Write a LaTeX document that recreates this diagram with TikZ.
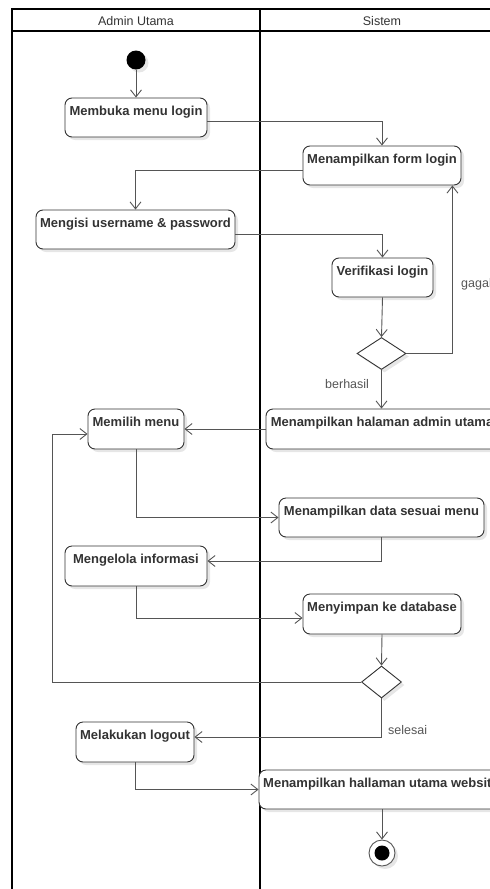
\documentclass[tikz,border=0pt]{standalone}
\usepackage{fontspec}
\setmainfont{Liberation Sans}
\usetikzlibrary{arrows.meta,shapes.geometric,shadows}
\definecolor{edgegray}{HTML}{555555}
\definecolor{boxline}{HTML}{333333}
\definecolor{shade}{HTML}{E6E6E6}
\definecolor{ink}{HTML}{333333}
\definecolor{soft}{HTML}{555555}
\begin{document}
\begin{tikzpicture}[x=1pt,y=-1pt,
  font=\fontsize{13}{15}\selectfont,
  flow/.style={draw=edgegray, line width=0.9pt, -{Straight Barb[length=7pt,width=11pt,line width=0.9pt]}},
  softshadow/.style={drop shadow={shadow xshift=3pt, shadow yshift=-3pt, fill=shade, draw=none, opacity=1}},
  act/.style={draw=boxline, line width=0.9pt, rounded corners=7pt, fill=white,
    minimum height=39pt, inner sep=0pt, softshadow},
  acttext/.style={anchor=base, yshift=-17.5pt, inner sep=0pt, text=ink,
    font=\fontsize{13}{15}\selectfont\bfseries},
  decision/.style={diamond, draw=boxline, line width=0.9pt, fill=white, inner sep=0pt, softshadow},
  lane/.style={draw=black, line width=2pt},
  lanetitle/.style={text=ink, font=\fontsize{12.5}{15}\selectfont, inner sep=0pt, anchor=base},
  guard/.style={text=soft, font=\fontsize{12.5}{15}\selectfont, inner sep=0pt, anchor=base west}
]
\useasboundingbox (0,0) rectangle (490,889);
\clip (0,0) rectangle (490,889);

% swimlanes
\draw[lane] (12,889) -- (12,9) -- (500,9);
\draw[lane] (260,9) -- (260,889);
\draw[draw=black, line width=1.5pt] (12,31) -- (500,31);
\node[lanetitle] (laneA) at (136,25) {Admin Utama};
\node[lanetitle] (laneB) at (382,25) {Sistem};

% start / end
\node[circle, fill=black, minimum size=19pt, inner sep=0pt, softshadow] (start) at (136,60) {};
\node[circle, draw=edgegray, line width=0.9pt, fill=white, minimum size=26pt, inner sep=0pt, softshadow] (end) at (382,853) {};
\node[circle, fill=black, minimum size=15pt, inner sep=0pt] (endin) at (end) {};

% activities
\node[act, minimum width=142pt, label={[acttext]north:Membuka menu login}] (b1) at (136,117.5) {};
\node[act, minimum width=158pt, label={[acttext]north:Menampilkan form login}] (b2) at (382,165.5) {};
\node[act, minimum width=199pt, label={[acttext]north:Mengisi username \& password}] (b3) at (135.5,229.5) {};
\node[act, minimum width=101pt, label={[acttext]north:Verifikasi login}] (b4) at (382.5,277.5) {};
\node[decision, minimum width=49pt, minimum height=32pt] (d1) at (381.5,353.5) {};
\node[act, minimum width=232pt, minimum height=40pt, label={[acttext]north:Menampilkan halaman admin utama}] (b5) at (382,429) {};
\node[act, minimum width=96pt, minimum height=40pt, label={[acttext]north:Memilih menu}] (b6) at (136,429) {};
\node[act, minimum width=205pt, label={[acttext]north:Menampilkan data sesuai menu}] (b7) at (381.5,517.5) {};
\node[act, minimum width=142pt, minimum height=40pt, label={[acttext]north:Mengelola informasi}] (b8) at (136,566) {};
\node[act, minimum width=158pt, minimum height=40pt, label={[acttext]north:Menyimpan ke database}] (b9) at (382,614) {};
\node[decision, minimum width=40pt, minimum height=32pt] (d2) at (381.5,682) {};
\node[act, minimum width=118pt, minimum height=40pt, label={[acttext]north:Melakukan logout}] (b10) at (135,742) {};
\node[act, minimum width=244pt, label={[acttext]north:Menampilkan hallaman utama website}] (b11) at (381,789.5) {};

% guards
\node[guard] (gfail) at (461,287) {gagal};
\node[guard] (gok) at (325,388.5) {berhasil};
\node[guard] (gdone) at (388,734) {selesai};

% flows
\draw[flow] (start) -- (b1);
\draw[flow] ([yshift=-4pt]b1.east) -| (b2.north);
\draw[flow] ([yshift=-4.5pt]b2.west) -| (b3.north);
\draw[flow] ([yshift=-4.5pt]b3.east) -| (b4.north);
\draw[flow] (b4.south) -- (d1.north);
\draw[flow] (d1.east) -| ([xshift=-9pt]b2.south east);
\draw[flow] (d1.south) -- (d1.south |- b5.north);
\draw[flow] (b5.west) -- (b5.west -| b6.east);
\draw[flow] (b6.south) |- (b7.west);
\draw[flow] (b7.south) |- ([yshift=5pt]b8.east);
\draw[flow] (b8.south) |- ([yshift=-4pt]b9.west);
\draw[flow] (b9.south) -- (d2.north);
\coordinate (loopcorner) at (52,682);
\draw[flow] (d2.west) -- (loopcorner) |- ([yshift=-5pt]b6.west);
\draw[flow] (d2.south) |- ([yshift=5pt]b10.east);
\draw[flow] (b10.south) |- (b11.west);
\draw[flow] (end |- b11.south) -- (end.north);
\end{tikzpicture}
\end{document}
